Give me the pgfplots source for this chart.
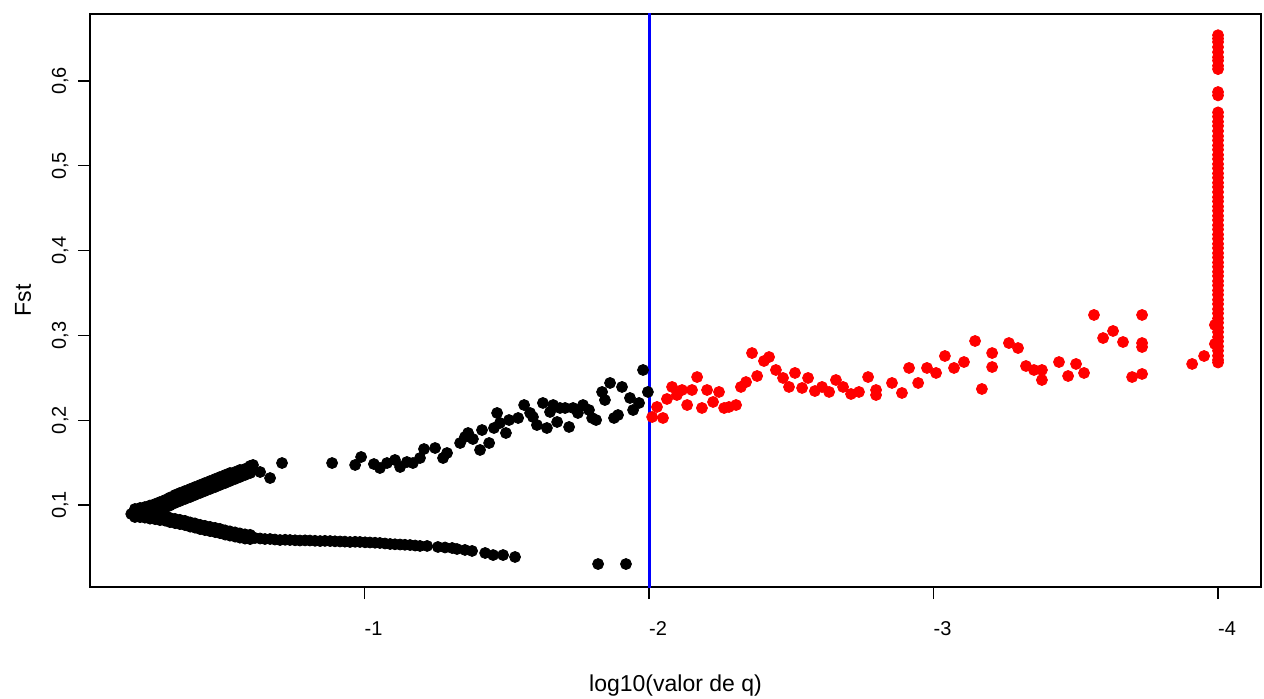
\documentclass[border=0pt]{standalone}
\usepackage{fontspec}
\setmainfont{Liberation Sans}
\usepackage{pgfplots}
\usepackage{pgfplotstable}
\pgfplotsset{compat=1.18}

% log10(q) vs Fst, q > 0.01 (black)
\pgfplotstableread{
x y
-0.180 0.0894
-0.190 0.0880
-0.190 0.0910
-0.200 0.0870
-0.200 0.0920
-0.193 0.0953
-0.211 0.0965
-0.228 0.0976
-0.246 0.0994
-0.264 0.1012
-0.281 0.1035
-0.299 0.1059
-0.316 0.1088
-0.334 0.1118
-0.351 0.1142
-0.369 0.1165
-0.387 0.1189
-0.404 0.1212
-0.422 0.1236
-0.439 0.1259
-0.457 0.1283
-0.475 0.1307
-0.492 0.1330
-0.510 0.1354
-0.527 0.1377
-0.545 0.1389
-0.562 0.1413
-0.580 0.1425
-0.598 0.1460
-0.193 0.0906
-0.211 0.0918
-0.228 0.0929
-0.246 0.0947
-0.264 0.0965
-0.281 0.0988
-0.299 0.1012
-0.316 0.1041
-0.334 0.1071
-0.351 0.1095
-0.369 0.1118
-0.387 0.1142
-0.404 0.1165
-0.422 0.1189
-0.439 0.1212
-0.457 0.1236
-0.475 0.1260
-0.492 0.1283
-0.510 0.1307
-0.527 0.1330
-0.545 0.1348
-0.562 0.1372
-0.580 0.1390
-0.598 0.1419
-0.193 0.0858
-0.211 0.0870
-0.228 0.0882
-0.246 0.0900
-0.264 0.0917
-0.281 0.0941
-0.299 0.0965
-0.316 0.0994
-0.334 0.1024
-0.351 0.1047
-0.369 0.1071
-0.387 0.1094
-0.404 0.1118
-0.422 0.1142
-0.439 0.1165
-0.457 0.1189
-0.475 0.1212
-0.492 0.1236
-0.510 0.1259
-0.527 0.1283
-0.545 0.1307
-0.562 0.1330
-0.580 0.1354
-0.598 0.1377
-0.608 0.1472
-0.633 0.1389
-0.668 0.1318
-0.710 0.1495
-0.193 0.0894
-0.211 0.0882
-0.228 0.0876
-0.246 0.0864
-0.264 0.0858
-0.281 0.0847
-0.299 0.0841
-0.316 0.0823
-0.334 0.0811
-0.351 0.0800
-0.369 0.0788
-0.387 0.0770
-0.404 0.0758
-0.422 0.0741
-0.439 0.0729
-0.457 0.0717
-0.475 0.0705
-0.492 0.0693
-0.510 0.0676
-0.527 0.0664
-0.545 0.0652
-0.562 0.0640
-0.580 0.0629
-0.598 0.0623
-0.615 0.0611
-0.633 0.0605
-0.211 0.0907
-0.228 0.0901
-0.246 0.0889
-0.264 0.0883
-0.281 0.0872
-0.299 0.0866
-0.316 0.0848
-0.334 0.0836
-0.351 0.0825
-0.369 0.0813
-0.387 0.0795
-0.404 0.0783
-0.422 0.0766
-0.439 0.0754
-0.457 0.0742
-0.475 0.0730
-0.492 0.0718
-0.510 0.0701
-0.527 0.0689
-0.545 0.0677
-0.562 0.0665
-0.580 0.0654
-0.598 0.0648
-0.211 0.0857
-0.228 0.0851
-0.246 0.0839
-0.264 0.0833
-0.281 0.0822
-0.299 0.0816
-0.316 0.0798
-0.334 0.0786
-0.351 0.0775
-0.369 0.0763
-0.387 0.0745
-0.404 0.0733
-0.422 0.0716
-0.439 0.0704
-0.457 0.0692
-0.475 0.0680
-0.492 0.0668
-0.510 0.0651
-0.527 0.0639
-0.545 0.0627
-0.562 0.0615
-0.580 0.0604
-0.598 0.0598
-0.650 0.0599
-0.668 0.0599
-0.685 0.0593
-0.703 0.0587
-0.721 0.0590
-0.738 0.0587
-0.756 0.0584
-0.773 0.0581
-0.791 0.0583
-0.808 0.0581
-0.826 0.0578
-0.844 0.0575
-0.861 0.0577
-0.879 0.0575
-0.896 0.0572
-0.914 0.0570
-0.931 0.0568
-0.949 0.0564
-0.967 0.0566
-0.984 0.0564
-1.002 0.0560
-1.019 0.0558
-1.037 0.0555
-1.054 0.0552
-1.072 0.0546
-1.090 0.0540
-1.107 0.0537
-1.125 0.0534
-1.142 0.0531
-1.160 0.0528
-1.178 0.0522
-1.195 0.0517
-1.220 0.0517
-1.258 0.0505
-1.283 0.0499
-1.308 0.0493
-1.325 0.0481
-1.353 0.0470
-1.378 0.0458
-1.424 0.0434
-1.452 0.0410
-1.487 0.0410
-1.529 0.0387
-1.821 0.0304
-1.919 0.0304
-0.886 0.1495
-0.967 0.1472
-0.988 0.1566
-1.033 0.1483
-1.054 0.1436
-1.079 0.1495
-1.107 0.1531
-1.125 0.1448
-1.149 0.1507
-1.170 0.1495
-1.195 0.1554
-1.209 0.1660
-1.248 0.1672
-1.276 0.1554
-1.290 0.1613
-1.336 0.1731
-1.353 0.1802
-1.364 0.1849
-1.381 0.1778
-1.406 0.1649
-1.413 0.1884
-1.438 0.1731
-1.455 0.1908
-1.466 0.2085
-1.476 0.1967
-1.497 0.1849
-1.508 0.2002
-1.540 0.2026
-1.561 0.2179
-1.582 0.2085
-1.592 0.2038
-1.606 0.1943
-1.627 0.2203
-1.641 0.1908
-1.652 0.2097
-1.663 0.2179
-1.677 0.1979
-1.687 0.2144
-1.705 0.2144
-1.719 0.1920
-1.733 0.2144
-1.750 0.2085
-1.768 0.2179
-1.789 0.2120
-1.800 0.2026
-1.814 0.2002
-1.835 0.2333
-1.845 0.2238
-1.863 0.2439
-1.877 0.2026
-1.891 0.2061
-1.905 0.2392
-1.933 0.2262
-1.944 0.2120
-1.965 0.2203
-1.979 0.2592
-1.996 0.2333
}\blackpts

% q <= 0.01 (red)
\pgfplotstableread{
x y
-2.011 0.2038
-2.028 0.2156
-2.049 0.2026
-2.063 0.2250
-2.081 0.2392
-2.098 0.2297
-2.116 0.2356
-2.134 0.2179
-2.151 0.2356
-2.169 0.2509
-2.186 0.2144
-2.204 0.2356
-2.225 0.2215
-2.246 0.2333
-2.264 0.2144
-2.281 0.2156
-2.306 0.2179
-2.323 0.2392
-2.341 0.2450
-2.362 0.2792
-2.380 0.2521
-2.404 0.2698
-2.422 0.2745
-2.446 0.2592
-2.471 0.2498
-2.492 0.2392
-2.513 0.2557
-2.538 0.2380
-2.559 0.2498
-2.583 0.2344
-2.608 0.2392
-2.633 0.2333
-2.657 0.2474
-2.682 0.2392
-2.710 0.2309
-2.738 0.2333
-2.770 0.2509
-2.798 0.2356
-2.798 0.2297
-2.854 0.2439
-2.889 0.2321
-2.914 0.2616
-2.946 0.2439
-2.977 0.2616
-3.009 0.2557
-3.040 0.2757
-3.072 0.2616
-3.107 0.2686
-3.146 0.2934
-3.170 0.2368
-3.206 0.2792
-3.206 0.2627
-3.265 0.2910
-3.297 0.2851
-3.325 0.2639
-3.353 0.2592
-3.381 0.2592
-3.381 0.2474
-3.441 0.2686
-3.473 0.2521
-3.501 0.2663
-3.529 0.2557
-3.564 0.3241
-3.596 0.2969
-3.631 0.3052
-3.666 0.2922
-3.698 0.2509
-3.733 0.3241
-3.733 0.2910
-3.733 0.2863
-3.733 0.2545
-3.909 0.2663
-3.951 0.2757
-3.989 0.3123
-3.989 0.2899
-4.000 0.654
-4.000 0.650
-4.000 0.646
-4.000 0.640
-4.000 0.634
-4.000 0.628
-4.000 0.624
-4.000 0.618
-4.000 0.614
-4.000 0.587
-4.000 0.583
-4.000 0.563
-4.000 0.558
-4.000 0.552
-4.000 0.547
-4.000 0.541
-4.000 0.535
-4.000 0.530
-4.000 0.524
-4.000 0.519
-4.000 0.513
-4.000 0.508
-4.000 0.502
-4.000 0.497
-4.000 0.491
-4.000 0.486
-4.000 0.480
-4.000 0.475
-4.000 0.469
-4.000 0.463
-4.000 0.458
-4.000 0.452
-4.000 0.447
-4.000 0.441
-4.000 0.436
-4.000 0.430
-4.000 0.425
-4.000 0.419
-4.000 0.414
-4.000 0.408
-4.000 0.403
-4.000 0.397
-4.000 0.392
-4.000 0.386
-4.000 0.381
-4.000 0.375
-4.000 0.370
-4.000 0.364
-4.000 0.359
-4.000 0.353
-4.000 0.348
-4.000 0.342
-4.000 0.337
-4.000 0.331
-4.000 0.326
-4.000 0.320
-4.000 0.315
-4.000 0.309
-4.000 0.304
-4.000 0.298
-4.000 0.293
-4.000 0.287
-4.000 0.282
-4.000 0.276
-4.000 0.271
-4.000 0.268
}\redpts

\begin{document}
\begin{tikzpicture}
\begin{axis}[
    scale only axis,
    width=585.5pt,
    height=286.5pt,
    x dir=reverse,
    xmin=-4.151, xmax=-0.035,
    ymin=0.0033, ymax=0.679,
    axis line style={line width=0.6pt},
    xtick={-1,-2,-3,-4},
    xticklabels={-1,-2,-3,-4},
    ytick={0.1,0.2,0.3,0.4,0.5,0.6},
    yticklabels={{0,1},{0,2},{0,3},{0,4},{0,5},{0,6}},
    tick align=outside,
    major tick length=6pt,
    xtick pos=bottom,
    ytick pos=left,
    tick style={black, line width=0.6pt},
    ticklabel style={font=\fontsize{10}{12}\selectfont},
    xticklabel style={anchor=base, xshift=4.5pt, yshift=-18pt},
    yticklabel style={xshift=-6pt, rotate=90, anchor=base},
    xlabel={log10(valor de q)},
    ylabel={Fst},
    label style={font=\fontsize{11.5}{14}\selectfont},
    xlabel style={at={(axis description cs:0.5,-0.1815)}, anchor=base},
    ylabel style={at={(axis description cs:-0.0504,0.5)}, anchor=base},
]
\addplot[only marks, mark=*, mark size=2.75pt, black] table {\blackpts};
\addplot[only marks, mark=*, mark size=2.75pt, red] table {\redpts};
\addplot[blue, line width=1.5pt] coordinates {(-2,0) (-2,0.7)};
\end{axis}
\pgfresetboundingbox
\path ([shift={(-45pt,-55.5pt)}]current axis.south west) rectangle ([shift={(1.5pt,7pt)}]current axis.north east);
\end{tikzpicture}
\end{document}
